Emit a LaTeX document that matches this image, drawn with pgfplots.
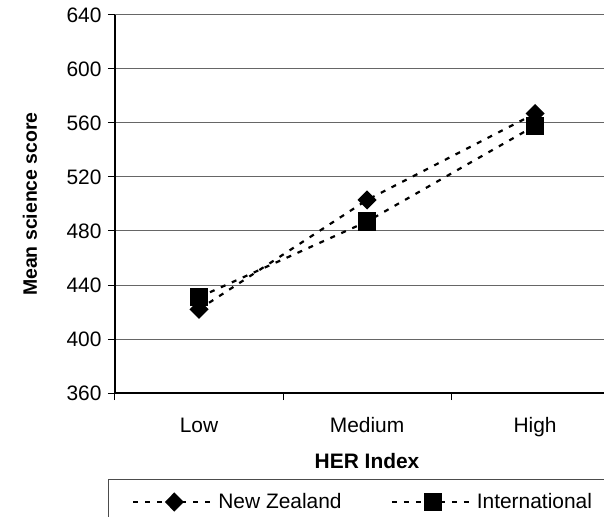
\documentclass[border=0pt]{standalone}
\usepackage{fontspec}
\setmainfont{Liberation Sans}
\usepackage{pgfplots}
\pgfplotsset{compat=1.18}
\begin{document}
\begin{tikzpicture}
\begin{scope}
\clip (-115bp,-124bp) rectangle (489bp,393bp);
\begin{axis}[
  at={(0,0)}, anchor=south west,
  scale only axis, width=489bp, height=378bp,
  xmin=-0.5, xmax=2.41, ymin=360, ymax=640,
  ytick={360,400,...,640},
  xtick={-0.5,0.5,1.5}, xticklabels={},
  extra x ticks={0,1,2}, extra x tick labels={Low,Medium,High},
  extra x tick style={major tick length=0pt, grid=none,
    xticklabel style={anchor=base, yshift=-39bp}},
  yticklabel style={xshift=-3bp},
  axis x line*=bottom, axis y line*=left,
  ymajorgrids, grid style={black!60, line width=1bp},
  tick align=outside, major tick length=7bp,
  tick style={black, line width=1bp},
  axis line style={black, line width=1.3bp},
  ticklabel style={font=\fontsize{21}{24}\selectfont},
  /pgf/number format/assume math mode=true,
  xlabel={\bfseries HER Index},
  xlabel style={font=\fontsize{21}{24}\selectfont, at={(axis cs:1,360)}, anchor=base, yshift=-75bp},
  ylabel={\bfseries Mean science score},
  ylabel style={font=\fontsize{19.5}{23}\selectfont, at={(axis description cs:-0.1738,0.5)}, anchor=center},
  legend columns=2,
  legend style={draw=none, fill=none, inner sep=0pt,
    at={(axis description cs:0,0)}, anchor=west, xshift=17bp, yshift=-109bp,
    font=\fontsize{21}{24}\selectfont,
    /tikz/every even column/.append style={column sep=47bp}},
  legend image code/.code={%
    \draw[#1, mark repeat=2, mark phase=2] plot coordinates {(0bp,0bp) (41bp,0bp) (82bp,0bp)};},
]
\addplot[black, line width=2.2bp, dash pattern=on 5bp off 7bp,
  mark=diamond*, mark size=8bp, mark options={solid, xscale=1.33, fill=black}]
  coordinates {(0,422) (1,503) (2,567)};
\addlegendentry{New Zealand}
\addplot[black, line width=2.2bp, dash pattern=on 5bp off 7bp,
  mark=square*, mark size=8bp, mark options={solid, fill=black}]
  coordinates {(0,431) (1,487) (2,558)};
\addlegendentry{International}
\end{axis}
\draw[black!70, line width=1bp] (-6bp,-300bp) |- (600bp,-86bp);
\end{scope}
\pgfresetboundingbox
\useasboundingbox (-115bp,-124bp) rectangle (489bp,393bp);
\end{tikzpicture}
\end{document}
